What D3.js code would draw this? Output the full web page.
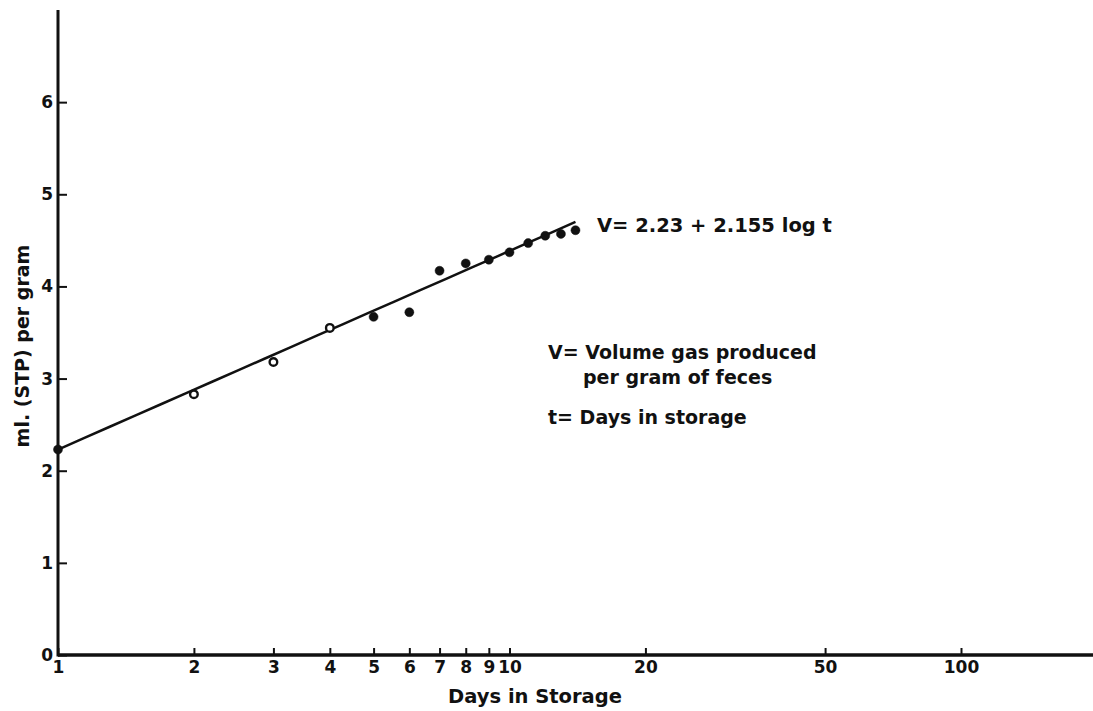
<!DOCTYPE html>
<html>
<head>
<meta charset="utf-8">
<script src="https://cdn.jsdelivr.net/npm/d3@7"></script>
<style>
  body { margin: 0; background: #fff; }
  text { font-family: "DejaVu Sans", sans-serif; font-weight: bold; fill: #111; }
</style>
</head>
<body>
<div id="chart"></div>
<script>
// measured points (days in storage, ml gas per gram)
const days = [1, 2, 3, 4, 5, 6, 7, 8, 9, 10, 11, 12, 13, 14];
const volume = [2.23, 2.83, 3.18, 3.55, 3.67, 3.72, 4.17, 4.25, 4.29, 4.37, 4.47, 4.55, 4.57, 4.61];
const hollow = [false, true, true, true, false, false, false, false, false, false, false, false, false, false];

const xTicks = [1, 2, 3, 4, 5, 6, 7, 8, 9, 10, 20, 50, 100];
const yTicks = [0, 1, 2, 3, 4, 5, 6];

// fitted line V = a + b log t
const fitA = 2.23;
const fitB = 2.155;
const fitRange = [1, 14];

const width = 1093;
const height = 711;

const svg = d3.select("#chart").append("svg")
    .attr("width", width)
    .attr("height", height);

const x = d3.scaleLog().domain([1, 100]).range([58, 961]);
const y = d3.scaleLinear().domain([0, 7]).range([655, 10]);

// axes
const xAxis = d3.axisBottom(x)
    .tickValues(xTicks)
    .tickFormat(d3.format("d"))
    .tickSizeInner(-7)
    .tickSizeOuter(0)
    .tickPadding(6);

const gx = svg.append("g")
    .attr("transform", "translate(0," + y(0) + ")")
    .call(xAxis);
gx.select(".domain").remove();
gx.selectAll(".tick line").attr("stroke", "#111").attr("stroke-width", 2);
gx.selectAll(".tick text").style("font-size", "17px").attr("fill", "#111");

const yAxis = d3.axisLeft(y)
    .tickValues(yTicks)
    .tickFormat(d3.format("d"))
    .tickSizeInner(-9)
    .tickSizeOuter(0)
    .tickPadding(5);

const gy = svg.append("g")
    .attr("transform", "translate(" + x(1) + ",0)")
    .call(yAxis);
gy.select(".domain").remove();
gy.selectAll(".tick line").attr("stroke", "#111").attr("stroke-width", 2);
gy.selectAll(".tick text").style("font-size", "17px").attr("fill", "#111");

svg.append("line")
    .attr("x1", x(1)).attr("x2", width)
    .attr("y1", y(0)).attr("y2", y(0))
    .attr("stroke", "#111").attr("stroke-width", 3.5);

svg.append("line")
    .attr("x1", x(1)).attr("x2", x(1))
    .attr("y1", y(0) + 1.5).attr("y2", y(7))
    .attr("stroke", "#111").attr("stroke-width", 3);

// fit line
const fitPts = d3.range(0, 21).map(i => {
    const t = fitRange[0] * Math.pow(fitRange[1] / fitRange[0], i / 20);
    return [t, fitA + fitB * Math.log10(t)];
});
svg.append("path")
    .datum(fitPts)
    .attr("fill", "none")
    .attr("stroke", "#111")
    .attr("stroke-width", 2.5)
    .attr("d", d3.line().x(d => x(d[0])).y(d => y(d[1])));

// points
svg.selectAll(".pt")
    .data(days)
    .enter().append("circle")
    .attr("class", "pt")
    .attr("cx", d => x(d))
    .attr("cy", (d, i) => y(volume[i]))
    .attr("r", (d, i) => hollow[i] ? 3.8 : 4.5)
    .attr("fill", (d, i) => hollow[i] ? "#fff" : "#111")
    .attr("stroke", "#111")
    .attr("stroke-width", (d, i) => hollow[i] ? 2.4 : 0.5);

// titles
svg.append("text")
    .attr("x", 535).attr("y", 703)
    .attr("text-anchor", "middle")
    .style("font-size", "19.5px")
    .text("Days in Storage");

svg.append("text")
    .attr("transform", "translate(29,346) rotate(-90)")
    .attr("text-anchor", "middle")
    .style("font-size", "19px")
    .text("ml. (STP) per gram");

// annotations
svg.append("text")
    .attr("x", 597).attr("y", 232)
    .style("font-size", "19.5px")
    .text("V= 2.23 + 2.155 log t");

const notes = [
    { text: "V= Volume gas produced", x: 548, y: 359 },
    { text: "per gram of feces", x: 583, y: 384 },
    { text: "t= Days in storage", x: 548, y: 424 }
];
svg.selectAll(".note")
    .data(notes)
    .enter().append("text")
    .attr("class", "note")
    .attr("x", d => d.x).attr("y", d => d.y)
    .style("font-size", "19px")
    .text(d => d.text);
</script>
</body>
</html>
